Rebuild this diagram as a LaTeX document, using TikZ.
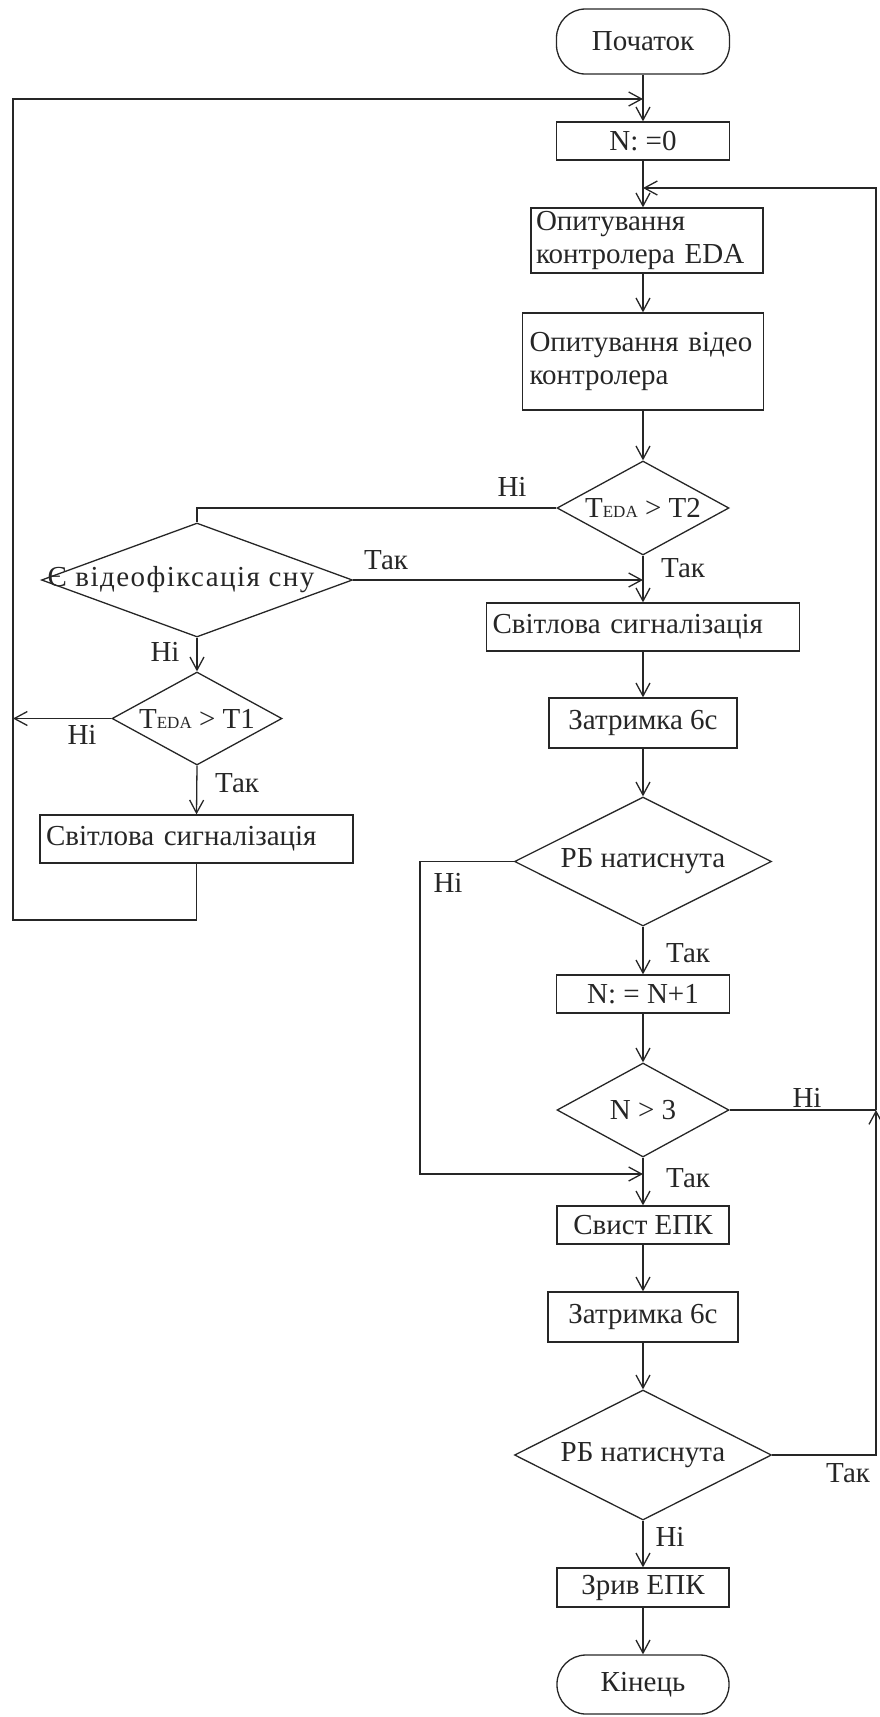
\documentclass[tikz,border=0pt]{standalone}
\usepackage{fontspec}
\setmainfont{Liberation Serif}
\usetikzlibrary{arrows.meta,shapes.geometric}
\begin{document}
\begin{tikzpicture}[x=1pt,y=-1pt,
  line width=1.3pt, color=black!85,
  every node/.style={font=\fontsize{29}{33}\selectfont},
  box/.style={draw, rectangle, inner sep=0pt, align=center},
  lbox/.style={draw, rectangle, inner ysep=0pt, align=left},
  term/.style={draw, rectangle, rounded corners=29pt, inner sep=0pt},
  dec/.style={draw, diamond, inner sep=0pt},
  lbl/.style={inner sep=0pt},
  arr/.style={-{Straight Barb[length=13pt,width=14pt]}},
]
\useasboundingbox (0,0) rectangle (879,1717);

% main column
\node[term, minimum width=173pt, minimum height=65pt] (start) at (643,41.5) {Початок};
\node[box, minimum width=173pt, minimum height=38pt] (n0) at (643,141) {N: =0};
\node[lbox, minimum height=65pt, text width=222pt, inner xsep=5pt] (eda) at (647,240.5) {Опитування\\контролера EDA};
\node[lbox, minimum height=97pt, text width=227pt, inner xsep=7pt] (video) at (643,361.5) {Опитування відео\\контролера};
\node[dec, minimum width=172pt, minimum height=94pt] (d2) at (643,508)
  {\makebox[0pt]{T{\fontsize{17}{17}\selectfont EDA} > T2}};
\node[lbox, minimum height=48pt, text width=301pt, inner xsep=6pt] (light2) at (643,627) {Світлова сигналізація};
\node[box, minimum width=188pt, minimum height=50pt] (delay1) at (643,723) {Затримка 6с};
\node[dec, minimum width=257pt, minimum height=129pt] (rb1) at (643,861.5) {\makebox[0pt]{РБ натиснута}};
\node[box, minimum width=173pt, minimum height=38pt] (inc) at (643,994) {N: = N+1};
\node[dec, minimum width=172pt, minimum height=94pt] (d3) at (643,1110) {\makebox[0pt]{N > 3}};
\node[box, minimum width=172pt, minimum height=38pt] (whistle) at (643,1225) {Свист ЕПК};
\node[box, minimum width=190pt, minimum height=50pt] (delay2) at (643,1317) {Затримка 6с};
\node[dec, minimum width=257pt, minimum height=130pt] (rb2) at (643,1455) {\makebox[0pt]{РБ натиснута}};
\node[box, minimum width=172pt, minimum height=39pt] (brk) at (643,1587.5) {Зрив ЕПК};
\node[term, minimum width=172pt, minimum height=59pt] (end) at (643,1684.5) {Кінець};

% left column
\node[dec, minimum width=311pt, minimum height=114pt] (dsleep) at (197,580)
  {\makebox[0pt]{\kern-32pt\addfontfeature{LetterSpace=5}Є відеофіксація сну}};
\node[dec, minimum width=170pt, minimum height=93pt] (d1) at (197,718.5)
  {\makebox[0pt]{T{\fontsize{17}{17}\selectfont EDA} > T1}};
\node[lbox, minimum height=48pt, text width=301pt, inner xsep=6pt] (light1) at (196.5,839) {Світлова сигналізація};

% helper coordinates
\coordinate (m1) at (643,99);
\coordinate (m2) at (643,188);
\coordinate (lb) at (13,920);
\coordinate (rc) at (876,188);
\coordinate (j3) at (876,1110);
\coordinate (m3) at (643,580);
\coordinate (rbl) at (420,1174);
\coordinate (m4) at (643,1174);

% connectors
\draw[arr] (start.south) -- (n0.north);
\draw[arr] (light1.south) |- (lb) |- (m1);
\draw[arr] (d1.west) -- (d1.west -| lb);
\draw[arr] (n0.south) -- (n0.south |- eda.north);
\draw[arr] (rb2.east) -| (j3);
\draw (d3.east) -- (j3);
\draw[arr] (j3) |- (m2);
\draw[arr] (n0.south |- eda.south) -- (video.north);
\draw[arr] (video.south) -- (d2.north);
\draw (d2.west) -| (dsleep.north);
\draw[arr] (d2.south) -- (light2.north);
\draw[arr] (dsleep.east) -- (m3);
\draw[arr] (dsleep.south) -- (d1.north);
\draw[arr] (d1.south) -- (light1.north);
\draw[arr] (light2.south) -- (delay1.north);
\draw[arr] (delay1.south) -- (rb1.north);
\draw[arr] (rb1.south) -- (inc.north);
\draw[arr] (rb1.west) -| (rbl) -- (m4);
\draw[arr] (inc.south) -- (d3.north);
\draw[arr] (d3.south) -- (whistle.north);
\draw[arr] (whistle.south) -- (delay2.north);
\draw[arr] (delay2.south) -- (rb2.north);
\draw[arr] (rb2.south) -- (brk.north);
\draw[arr] (brk.south) -- (end.north);

% labels
\node[lbl] (l1) at (512,487) {Ні};
\node[lbl] (l2) at (683,568) {Так};
\node[lbl] (l3) at (386,560) {Так};
\node[lbl] (l4) at (165,652) {Ні};
\node[lbl] (l5) at (82,735) {Ні};
\node[lbl] (l6) at (237,783) {Так};
\node[lbl] (l7) at (448,883) {Ні};
\node[lbl] (l8) at (688,953) {Так};
\node[lbl] (l9) at (807,1098) {Ні};
\node[lbl] (l10) at (688,1178) {Так};
\node[lbl] (l11) at (848,1473) {Так};
\node[lbl] (l12) at (670,1537) {Ні};
\end{tikzpicture}
\end{document}
